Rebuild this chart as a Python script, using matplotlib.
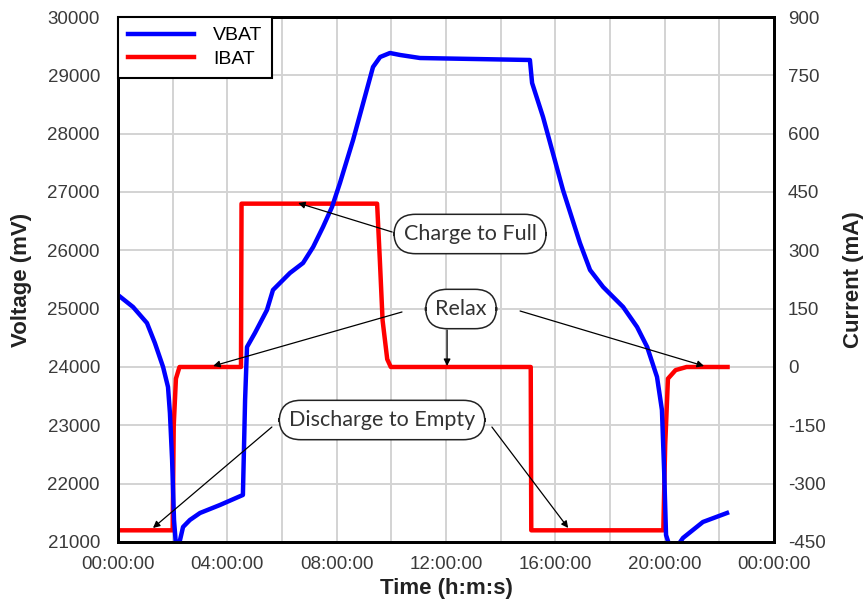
import matplotlib
matplotlib.use('Agg')
import matplotlib.pyplot as plt
from matplotlib.ticker import FixedLocator, MultipleLocator

plt.rcParams['font.family'] = ['Liberation Sans', 'DejaVu Sans']
plt.rcParams['axes.unicode_minus'] = False

# VBAT trace (time in hours, voltage in mV)
vbat_t = [0.00, 0.55, 1.06, 1.35, 1.65, 1.83, 1.90, 1.98, 2.05, 2.12, 2.20, 2.27,
          2.38, 2.63, 3.00, 3.73, 4.57, 4.65, 4.72, 5.01, 5.45, 5.67, 6.29, 6.77,
          7.14, 7.50, 7.83, 8.12, 8.60, 9.33, 9.59, 9.95, 10.32, 11.05, 15.07,
          15.15, 15.55, 16.28, 16.90, 17.27, 17.75, 18.48, 18.99, 19.36, 19.72,
          19.90, 19.98, 20.05, 20.20, 20.42, 20.67, 21.40, 22.28]
vbat_mv = [25234, 25029, 24754, 24411, 24000, 23657, 23211, 22406, 21377, 20950,
           20950, 21034, 21257, 21377, 21497, 21634, 21806, 23434, 24343, 24583,
           24977, 25320, 25611, 25783, 26057, 26400, 26743, 27154, 27891, 29143,
           29314, 29383, 29349, 29297, 29263, 28869, 28286, 27034, 26126, 25663,
           25371, 25029, 24686, 24343, 23829, 23263, 22234, 21120, 20900, 20900,
           21069, 21343, 21497]

# IBAT trace (time in hours, current in mA)
ibat_t = [0.00, 2.00, 2.04, 2.12, 2.25, 4.50, 4.52, 9.48, 9.58, 9.68, 9.85, 9.98,
          15.10, 15.12, 19.95, 20.02, 20.12, 20.40, 20.80, 22.30]
ibat_ma = [-420, -420, -150, -30, 0, 0, 420, 420, 275, 120, 20, 0,
           0, -420, -420, -200, -30, -8, 0, 0]

time_ticks = [0, 4, 8, 12, 16, 20, 24]
time_labels = ['00:00:00', '04:00:00', '08:00:00', '12:00:00',
               '16:00:00', '20:00:00', '00:00:00']

tick_color = '#3a3a3a'
note_font = 'Lato'

fig = plt.figure(figsize=(8.65, 6.01), dpi=100)
ax = fig.add_axes([0.1364, 0.0982, 0.7584, 0.8735])
ax2 = ax.twinx()
ax.set_zorder(ax2.get_zorder() + 1)
ax.patch.set_visible(False)

l2, = ax2.plot(ibat_t, ibat_ma, color='#ff0000', lw=3.2, label='IBAT')
l1, = ax.plot(vbat_t, vbat_mv, color='#0000ff', lw=3.2, label='VBAT')

ax.set_xlim(0, 24)
ax.set_ylim(21000, 30000)
ax2.set_ylim(-450, 900)
ax.set_yticks(range(21000, 30001, 1000))
ax2.set_yticks(range(-450, 901, 150))
ax.xaxis.set_major_locator(FixedLocator(time_ticks))
ax.set_xticklabels(time_labels)
ax.xaxis.set_minor_locator(MultipleLocator(2))

# grid lives on the lower axes so it stays under both traces
ax.grid(False)
ax2.xaxis.set_visible(True)
ax2.tick_params(axis='x', which='both', labelbottom=False, labeltop=False,
                bottom=False, top=False)
ax2.grid(True, which='both', axis='x', color='#d3d3d3', lw=1.4)
ax2.grid(True, which='major', axis='y', color='#d3d3d3', lw=1.4)
ax2.set_axisbelow(True)

for a in (ax, ax2):
    a.tick_params(length=0, which='both', labelsize=13.5, labelcolor=tick_color)
    for s in a.spines.values():
        s.set_linewidth(2)
        s.set_color('black')
ax.tick_params(axis='y', pad=13)
ax.tick_params(axis='x', pad=10)
ax2.tick_params(axis='y', pad=10)

ax.set_xlabel('Time (h:m:s)', fontsize=16, fontweight='bold', color='#222222')
ax.set_ylabel('Voltage (mV)', fontsize=16, fontweight='bold', color='#222222')
ax2.set_ylabel('Current (mA)', fontsize=16, fontweight='bold', color='#222222')
ax.xaxis.set_label_coords(0.5, -0.068)
ax.yaxis.set_label_coords(-0.131, 0.5)
ax2.yaxis.set_label_coords(1.105, 0.5)

leg = ax.legend(handles=[l1, l2], loc='upper left', borderaxespad=0,
                fontsize=14, handlelength=3.4, handletextpad=1.0,
                fancybox=False, framealpha=1, borderpad=0.5, labelspacing=0.3)
leg.get_frame().set_edgecolor('black')
leg.get_frame().set_linewidth(1.5)
leg.set_zorder(10)

box = dict(boxstyle='round,pad=0.45,rounding_size=1.0', fc='white',
           ec='#222222', lw=1.1)
arrow = dict(arrowstyle='-|>', color='black', lw=0.9, mutation_scale=10,
             shrinkA=0, shrinkB=0)

def note(text, x, y, arrows):
    for (x0, y0, x1, y1) in arrows:
        ax.annotate('', xy=(x1, y1), xytext=(x0, y0), arrowprops=arrow, zorder=5)
    ax.text(x, y, text, ha='center', va='center', fontsize=15.5, family=note_font,
            color='#333333', bbox=box, zorder=6)

note('Charge to Full', 12.88, 26280, [(10.03, 26314, 6.59, 26811)])
note('Relax', 12.55, 24994, [(10.39, 24943, 3.48, 24017),
                            (12.04, 24634, 12.04, 24017),
                            (14.71, 24960, 21.44, 24017)])
note('Discharge to Empty', 9.66, 23091, [(5.63, 22971, 1.28, 21240),
                                         (13.68, 22971, 16.47, 21240)])

fig.savefig('out.png', dpi=100)
